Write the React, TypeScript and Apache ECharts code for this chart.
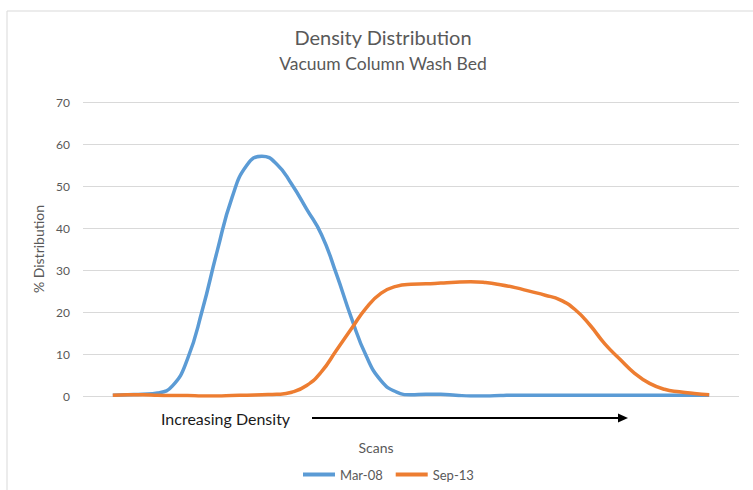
import React, { useEffect, useRef } from "react";
import * as echarts from "echarts";

// Scan positions (unlabelled on the x axis)
const scans = [
  1, 2, 3, 4, 5, 6, 7, 8, 9, 10, 11, 12, 13, 14, 15, 16, 17, 18, 19, 20, 21,
  22, 23, 24, 25, 26, 27, 28, 29, 30, 31, 32, 33, 34, 35, 36, 37, 38, 39, 40, 41,
];
// % Distribution values
const mar08 = [
  0.2, 0.3, 0.4, 0.7, 2.4, 8.7, 20.4, 34.5, 47.3, 55.0,
  57.1, 55.2, 50.4, 44.5, 38.4, 29.0, 18.6, 9.5, 3.6, 1.0,
  0.3, 0.4, 0.4, 0.2, 0.0, 0.0, 0.1, 0.2, 0.2, 0.2,
  0.2, 0.2, 0.2, 0.2, 0.2, 0.2, 0.2, 0.2, 0.2, 0.2, 0.2,
];
const sep13 = [
  0.2, 0.3, 0.3, 0.2, 0.1, 0.1, 0.0, 0.0, 0.1, 0.2,
  0.3, 0.4, 0.9, 2.5, 5.8, 10.9, 16.0, 21.0, 24.5, 26.1,
  26.6, 26.7, 26.9, 27.1, 27.2, 27.0, 26.5, 25.8, 24.9, 24.0,
  22.9, 20.6, 16.9, 12.4, 8.8, 5.4, 3.0, 1.6, 1.0, 0.6, 0.3,
];
const seriesNames = ["Mar-08", "Sep-13"];
const yTicks = [0, 10, 20, 30, 40, 50, 60, 70];

const FONT = "Lato, 'Open Sans', sans-serif";
const GRAY = "#595959";

export default function App() {
  const ref = useRef<HTMLDivElement>(null);

  useEffect(() => {
    document.body.style.margin = "0";
    const chart = echarts.init(ref.current!, null, { renderer: "svg" });
    const toPairs = (vals: number[]) => scans.map((s, i) => [s, vals[i]]);
    chart.setOption({
      animation: false,
      backgroundColor: "#ffffff",
      textStyle: { fontFamily: FONT },
      title: {
        text: "Density Distribution",
        subtext: "Vacuum Column Wash Bed",
        left: 378,
        textAlign: "center",
        top: 22,
        itemGap: 7,
        textStyle: { fontSize: 20, fontWeight: "normal", color: GRAY, fontFamily: FONT },
        subtextStyle: { fontSize: 17.5, color: GRAY, fontFamily: FONT },
      },
      legend: {
        data: seriesNames,
        left: 298,
        top: 463,
        icon: "rect",
        itemWidth: 32,
        itemHeight: 4,
        itemGap: 13,
        textStyle: { fontSize: 13, color: GRAY, fontFamily: FONT },
      },
      grid: { left: 83, right: 14, top: 102, bottom: 94, containLabel: false },
      xAxis: {
        type: "value",
        min: scans[0] - 2,
        max: scans[scans.length - 1] + 2,
        axisLabel: { show: false },
        axisTick: { show: false },
        axisLine: { show: false },
        splitLine: { show: false },
      },
      yAxis: {
        type: "value",
        min: yTicks[0],
        max: yTicks[yTicks.length - 1],
        interval: 10,
        name: "% Distribution",
        nameLocation: "middle",
        nameGap: 33,
        nameTextStyle: { fontSize: 14, color: GRAY, fontFamily: FONT },
        axisLabel: { color: GRAY, fontSize: 12, margin: 13, fontFamily: FONT },
        axisLine: { show: false },
        axisTick: { show: false },
        splitLine: { lineStyle: { color: "#d9d9d9", width: 1 } },
      },
      series: [
        {
          name: seriesNames[0],
          type: "line",
          data: toPairs(mar08),
          smooth: 0.5,
          showSymbol: false,
          color: "#5B9BD5",
          lineStyle: { width: 3.5, color: "#5B9BD5" },
        },
        {
          name: seriesNames[1],
          type: "line",
          data: toPairs(sep13),
          smooth: 0.5,
          showSymbol: false,
          color: "#ED7D31",
          lineStyle: { width: 3.5, color: "#ED7D31" },
        },
      ],
      graphic: [
        {
          type: "rect",
          shape: { x: 7, y: 11, width: 780, height: 520 },
          style: { fill: "none", stroke: "#d9d9d9", lineWidth: 1 },
          silent: true,
        },
        {
          type: "text",
          style: {
            text: "Increasing Density",
            x: 161,
            y: 418,
            textVerticalAlign: "middle",
            font: `16px ${FONT}`,
            fill: "#1a1a1a",
          },
        },
        {
          type: "line",
          shape: { x1: 312, y1: 418, x2: 620, y2: 418 },
          style: { stroke: "#000000", lineWidth: 2 },
        },
        {
          type: "polygon",
          shape: { points: [[618, 413.5], [628, 418], [618, 422.5]] },
          style: { fill: "#000000" },
        },
        {
          type: "text",
          style: {
            text: "Scans",
            x: 376,
            y: 447,
            textAlign: "center",
            textVerticalAlign: "middle",
            font: `14px ${FONT}`,
            fill: GRAY,
          },
        },
      ],
    });
    return () => chart.dispose();
  }, []);

  return (
    <div
      ref={ref}
      style={{ position: "absolute", left: 0, top: 0, width: 753, height: 490 }}
    />
  );
}
